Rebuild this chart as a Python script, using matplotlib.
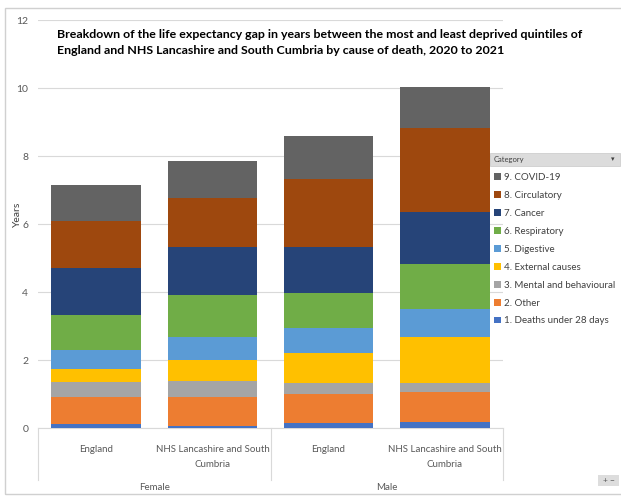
import matplotlib.pyplot as plt
import matplotlib.patches as mpatches
import numpy as np

plt.rcParams['font.family'] = ['Lato', 'DejaVu Sans']

# data (years)
bars = ['England', 'NHS Lancashire and South\nCumbria', 'England', 'NHS Lancashire and South\nCumbria']
groups = ['Female', 'Male']
causes = ['1. Deaths under 28 days', '2. Other', '3. Mental and behavioural', '4. External causes',
          '5. Digestive', '6. Respiratory', '7. Cancer', '8. Circulatory', '9. COVID-19']
deaths_28 = [0.12, 0.06, 0.14, 0.17]
other = [0.80, 0.86, 0.86, 0.88]
mental = [0.43, 0.45, 0.31, 0.28]
external = [0.39, 0.63, 0.89, 1.36]
digestive = [0.55, 0.69, 0.75, 0.80]
respiratory = [1.02, 1.21, 1.01, 1.33]
cancer = [1.40, 1.43, 1.37, 1.53]
circulatory = [1.39, 1.43, 1.98, 2.48]
covid = [1.06, 1.09, 1.28, 1.19]
series = [deaths_28, other, mental, external, digestive, respiratory, cancer, circulatory, covid]
colors = ['#4472C4', '#ED7D31', '#A5A5A5', '#FFC000', '#5B9BD5', '#70AD47', '#264478', '#9E480E', '#636363']

W, H = 621, 496
fig = plt.figure(figsize=(W / 100, H / 100), dpi=100)

def fx(px):
    return px / W

def fy(py):
    return 1 - py / H

# outer frame
fig.patches.append(mpatches.Rectangle((fx(5), fy(494)), fx(640) - fx(5), fy(8) - fy(494),
                                      transform=fig.transFigure, fill=False,
                                      edgecolor='#d0d0d0', linewidth=1))

ax = fig.add_axes([fx(38), fy(428), fx(503) - fx(38), fy(20) - fy(428)])
x = np.arange(len(bars))
bottom = np.zeros(len(bars))
handles = []
for vals, col, name in zip(series, colors, causes):
    b = ax.bar(x, vals, 0.77, bottom=bottom, color=col, label=name, zorder=3)
    handles.append(b)
    bottom += np.array(vals)

ax.set_xlim(-0.5, 3.5)
ax.set_ylim(0, 12)
ax.set_yticks(range(0, 13, 2))
ax.grid(axis='y', color='#d9d9d9', linewidth=0.8, zorder=0)
for s in ['top', 'right', 'left']:
    ax.spines[s].set_visible(False)
ax.spines['bottom'].set_color('#d9d9d9')
ax.tick_params(axis='y', length=0, pad=7, labelsize=7.5, labelcolor='#595959')
ax.set_xticks(x)
ax.set_xticklabels(bars, linespacing=1.85)
ax.tick_params(axis='x', length=0, pad=12, labelsize=7, labelcolor='#595959')
fig.text(fx(17), fy(214), 'Years', rotation=90, fontsize=7.5, color='#404040', ha='center', va='center')

# group separators and labels under the axis
trans = ax.get_xaxis_transform()
for xs in [-0.5, 1.5, 3.5]:
    ax.plot([xs, xs], [0, -52 / 408], transform=trans, color='#d9d9d9', linewidth=0.8, clip_on=False)
for i, g in enumerate(groups):
    ax.text(2 * i + 0.5, -60 / 408, g, transform=trans, ha='center', va='center',
            fontsize=7, color='#595959')

fig.text(fx(57), fy(42.5), 'Breakdown of the life expectancy gap in years between the most and least deprived quintiles of\n'
         'England and NHS Lancashire and South Cumbria by cause of death, 2020 to 2021',
         fontsize=8.9, fontweight='bold', ha='left', va='center', linespacing=1.6)

# legend header
fig.patches.append(mpatches.Rectangle((fx(490), fy(166)), fx(620) - fx(490), fy(153) - fy(166),
                                      transform=fig.transFigure, facecolor='#dcdcdc',
                                      edgecolor='#c8c8c8', linewidth=0.5))
fig.text(fx(494), fy(159.5), 'Category', fontsize=5.5, color='#404040', va='center')
fig.text(fx(613), fy(159.5), '\u25be', fontsize=5, color='#404040', va='center', ha='center',
         family='DejaVu Sans')

leg = fig.legend(handles[::-1], causes[::-1], loc='upper left', bbox_to_anchor=(fx(490), fy(169)),
                 frameon=False, fontsize=7, handlelength=0.7, handleheight=0.7, handletextpad=0.3,
                 labelspacing=0.92, borderaxespad=0)
for t in leg.get_texts():
    t.set_color('#404040')

# zoom buttons
fig.patches.append(mpatches.Rectangle((fx(598), fy(486)), fx(619) - fx(598), fy(475) - fy(486),
                                      transform=fig.transFigure, facecolor='#dddddd', edgecolor='none'))
fig.text(fx(608.5), fy(480.5), '+ \u2212', fontsize=6, color='#595959', ha='center', va='center')

fig.savefig('out.png', dpi=100)
